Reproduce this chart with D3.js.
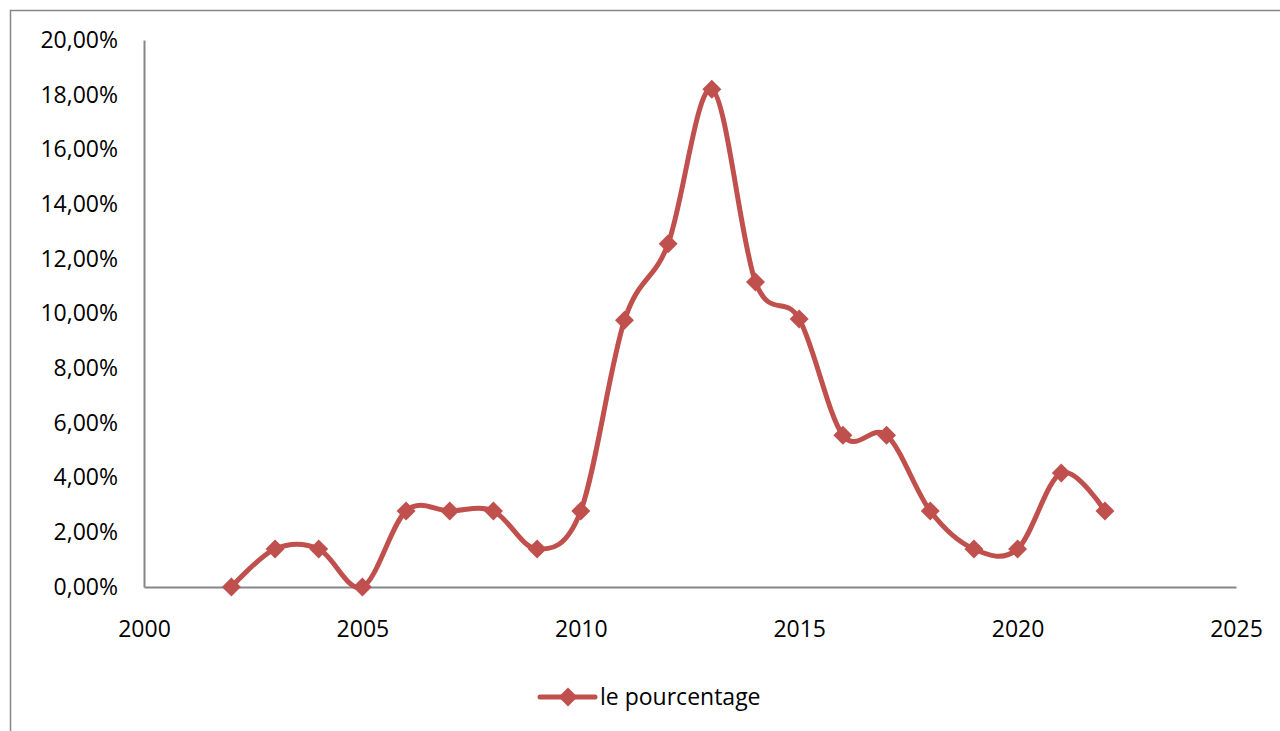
<!DOCTYPE html>
<html>
<head>
<meta charset="utf-8">
<script src="https://cdn.jsdelivr.net/npm/d3@7"></script>
<style>
body{margin:0;background:#fff;}
text{font-family:"Open Sans",sans-serif;fill:#000;}
</style>
</head>
<body>
<svg id="chart"></svg>
<script>
var years=[2002,2003,2004,2005,2006,2007,2008,2009,2010,2011,2012,2013,2014,2015,2016,2017,2018,2019,2020,2021,2022];
var pct=[0,1.39,1.39,0,2.78,2.78,2.78,1.39,2.78,9.75,12.55,18.2,11.15,9.8,5.55,5.55,2.78,1.39,1.39,4.17,2.78];
var yTicks=[0,2,4,6,8,10,12,14,16,18,20];
var xTicks=[2000,2005,2010,2015,2020,2025];
var seriesName="le pourcentage";

var w=1280;
var h=731;
var margin={left:144,right:44,top:40,bottom:144};
var red="#c0504d";
var grey="#868686";

var svg=d3.select("#chart")
          .attr("width",w)
          .attr("height",h);

// chart area border (cut off on the right and bottom)
svg.append("rect")
   .attr("x",10.5)
   .attr("y",10.5)
   .attr("width",1400)
   .attr("height",900)
   .attr("fill","none")
   .attr("stroke",grey)
   .attr("stroke-width",1.5);

var xScale=d3.scaleLinear()
             .domain([2000,2025])
             .range([margin.left,w-margin.right]);
var yScale=d3.scaleLinear()
             .domain([0,20])
             .range([h-margin.bottom,margin.top]);

var xAxis=d3.axisBottom(xScale)
            .tickValues(xTicks)
            .tickSize(0)
            .tickPadding(42)
            .tickFormat(d3.format("d"));
var yAxis=d3.axisLeft(yScale)
            .tickValues(yTicks)
            .tickSize(0)
            .tickPadding(26)
            .tickFormat(function(d){return d.toFixed(2).replace(".",",")+"%";});

var gx=svg.append("g")
   .attr("transform","translate(0,"+yScale(0)+")")
   .call(xAxis);
var gy=svg.append("g")
   .attr("transform","translate("+margin.left+",0)")
   .call(yAxis);
[gx,gy].forEach(function(g){
  g.select(".domain").attr("stroke",grey).attr("stroke-width",2);
  g.selectAll("text").attr("font-size",23).attr("font-family","Open Sans");
});
gx.selectAll("text").attr("dy","0.35em");

var data=years.map(function(y,i){return {year:y,value:pct[i]};});

var line=d3.line()
           .x(function(d){return xScale(d.year);})
           .y(function(d){return yScale(d.value);})
           .curve(d3.curveCatmullRom.alpha(0));

svg.append("path")
   .datum(data)
   .attr("d",line)
   .attr("fill","none")
   .attr("stroke",red)
   .attr("stroke-width",5)
   .attr("stroke-linejoin","round")
   .attr("stroke-linecap","round");

var diamond=d3.symbol().type(d3.symbolSquare).size(180);
svg.selectAll(".pt")
   .data(data)
   .enter()
   .append("path")
   .classed("pt",true)
   .attr("d",diamond)
   .attr("transform",function(d){return "translate("+xScale(d.year)+","+yScale(d.value)+") rotate(45)";})
   .attr("fill",red);

// legend
var lg=svg.append("g").attr("transform","translate(540,697)");
lg.append("line")
  .attr("x1",0).attr("x2",55)
  .attr("y1",0).attr("y2",0)
  .attr("stroke",red)
  .attr("stroke-width",5)
  .attr("stroke-linecap","round");
lg.append("path")
  .attr("d",diamond)
  .attr("transform","translate(28,0) rotate(45)")
  .attr("fill",red);
lg.append("text")
  .attr("x",60)
  .attr("y",0)
  .attr("dy","0.35em")
  .attr("font-size",23)
  .text(seriesName);
</script>
</body>
</html>
